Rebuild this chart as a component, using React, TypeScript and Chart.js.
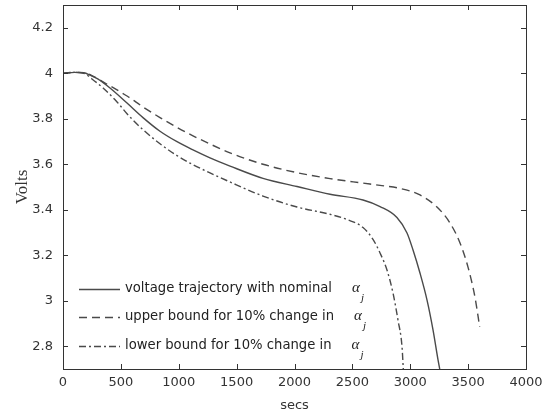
import React, { useEffect, useRef } from 'react';
import { Chart, registerables } from 'chart.js';

Chart.register(...registerables);

// Nominal voltage trajectory (secs, volts)
const nominalX = [0, 100, 180, 233, 300, 406, 553, 691, 838, 985, 1123, 1270, 1443, 1728, 2022, 2307, 2592, 2739, 2885, 2972, 3024, 3084, 3145, 3197, 3240, 3255];
const nominalY = [4.0, 4.004, 4.002, 3.992, 3.975, 3.935, 3.869, 3.805, 3.745, 3.699, 3.663, 3.628, 3.592, 3.538, 3.502, 3.468, 3.443, 3.414, 3.366, 3.298, 3.223, 3.122, 3.003, 2.871, 2.74, 2.7];

// Upper bound for 10% change
const upperX = [0, 100, 180, 250, 346, 553, 691, 838, 985, 1123, 1270, 1443, 1728, 2022, 2307, 2592, 2739, 2911, 3084, 3231, 3343, 3430, 3499, 3559, 3600];
const upperY = [4.0, 4.004, 4.002, 3.99, 3.962, 3.9, 3.852, 3.805, 3.762, 3.725, 3.689, 3.65, 3.6, 3.563, 3.537, 3.517, 3.507, 3.494, 3.465, 3.412, 3.342, 3.254, 3.148, 3.016, 2.885];

// Lower bound for 10% change
const lowerX = [0, 100, 180, 250, 346, 467, 553, 691, 838, 985, 1123, 1270, 1430, 1728, 2022, 2307, 2454, 2592, 2678, 2739, 2799, 2851, 2894, 2929, 2940];
const lowerY = [4.0, 4.004, 4.0, 3.975, 3.935, 3.874, 3.822, 3.752, 3.69, 3.638, 3.598, 3.562, 3.525, 3.46, 3.412, 3.38, 3.357, 3.322, 3.27, 3.21, 3.135, 3.034, 2.915, 2.797, 2.7];

const xTicks = [0, 500, 1000, 1500, 2000, 2500, 3000, 3500, 4000];
const yTicks = [2.8, 3.0, 3.2, 3.4, 3.6, 3.8, 4.0, 4.2];
const yTickLabels = ['2.8', '3', '3.2', '3.4', '3.6', '3.8', '4', '4.2'];

const legendLabels = [
  'voltage trajectory with nominal',
  'upper bound for 10% change in',
  'lower bound for 10% change in',
];
const legendSymbol = 'α';
const legendSub = 'j';

const LINE_COLOR = '#4a4a4a';
const dashes: number[][] = [[], [8, 5], [7, 3, 2, 3]];

const zip = (xs: number[], ys: number[]) => xs.map((x, i) => ({ x, y: ys[i] }));

const framePlugin = {
  id: 'frame',
  afterDatasetsDraw(chart: any) {
    const { ctx, chartArea: a, scales } = chart;
    const x = scales.x;
    const y = scales.y;
    ctx.save();
    ctx.strokeStyle = '#333';
    ctx.lineWidth = 1;
    ctx.setLineDash([]);
    ctx.strokeRect(Math.round(a.left) + 0.5, Math.round(a.top) + 0.5, Math.round(a.right - a.left), Math.round(a.bottom - a.top));
    const L = 5;
    ctx.beginPath();
    xTicks.forEach((v) => {
      const px = Math.round(x.getPixelForValue(v)) + 0.5;
      ctx.moveTo(px, a.bottom);
      ctx.lineTo(px, a.bottom - L);
      ctx.moveTo(px, a.top);
      ctx.lineTo(px, a.top + L);
    });
    yTicks.forEach((v) => {
      const py = Math.round(y.getPixelForValue(v)) + 0.5;
      ctx.moveTo(a.left, py);
      ctx.lineTo(a.left + L, py);
      ctx.moveTo(a.right, py);
      ctx.lineTo(a.right - L, py);
    });
    ctx.stroke();

    // legend inside plot, bottom-left
    const rowY = [289, 317, 346];
    const lineX0 = 79;
    const lineX1 = 120;
    const textX = 125;
    legendLabels.forEach((label, i) => {
      const ry = rowY[i];
      ctx.beginPath();
      ctx.strokeStyle = LINE_COLOR;
      ctx.lineWidth = 1.3;
      ctx.setLineDash(dashes[i]);
      ctx.moveTo(lineX0, ry + 0.5);
      ctx.lineTo(lineX1, ry + 0.5);
      ctx.stroke();
      ctx.setLineDash([]);
      ctx.fillStyle = '#222';
      ctx.font = '13.2px "DejaVu Sans"';
      ctx.textBaseline = 'middle';
      ctx.textAlign = 'left';
      ctx.fillText(label, textX, ry);
      const w = ctx.measureText(label).width;
      const ax = textX + w + 20;
      ctx.font = 'italic 15px "Liberation Serif"';
      ctx.fillText(legendSymbol, ax, ry - 1);
      const aw = ctx.measureText(legendSymbol).width;
      ctx.font = 'italic 11px "Liberation Serif"';
      ctx.fillText(legendSub, ax + aw + 1, ry + 9);
    });
    ctx.restore();
  },
};

export default function App() {
  const ref = useRef<HTMLCanvasElement>(null);
  useEffect(() => {
    document.body.style.margin = '0';
    const canvas = ref.current!;
    const chart = new Chart(canvas, {
      type: 'line',
      data: {
        datasets: [
          { label: legendLabels[0], data: zip(nominalX, nominalY), borderDash: dashes[0] },
          { label: legendLabels[1], data: zip(upperX, upperY), borderDash: dashes[1] },
          { label: legendLabels[2], data: zip(lowerX, lowerY), borderDash: dashes[2] },
        ].map((d) => ({
          ...d,
          borderColor: LINE_COLOR,
          borderWidth: 1.4,
          pointRadius: 0,
          fill: false,
          cubicInterpolationMode: 'monotone' as const,
        })),
      },
      options: {
        responsive: false,
        animation: false,
        layout: { padding: { left: 0, right: 21, top: 5, bottom: 0 } },
        plugins: { legend: { display: false }, tooltip: { enabled: false } },
        scales: {
          x: {
            type: 'linear',
            min: 0,
            max: 4000,
            grid: { display: false, drawTicks: false },
            border: { display: false },
            afterBuildTicks: (s: any) => { s.ticks = xTicks.map((v) => ({ value: v })); },
            afterFit: (s: any) => { s.height = 46; s.paddingLeft = 0; s.paddingRight = 0; },
            ticks: {
              color: '#333',
              font: { family: '"DejaVu Sans"', size: 13 },
              padding: 6,
              maxRotation: 0,
              autoSkip: false,
              callback: (v: any) => String(v),
            },
            title: {
              display: true,
              text: 'secs',
              color: '#333',
              font: { family: '"DejaVu Sans"', size: 13 },
              padding: { top: 0, bottom: 2 },
            },
          },
          y: {
            type: 'linear',
            min: 2.7,
            max: 4.3,
            grid: { display: false, drawTicks: false },
            border: { display: false },
            afterBuildTicks: (s: any) => { s.ticks = yTicks.map((v) => ({ value: v })); },
            afterFit: (s: any) => { s.width = 63; s.paddingTop = 0; s.paddingBottom = 0; },
            ticks: {
              color: '#333',
              font: { family: '"DejaVu Sans"', size: 13 },
              padding: 10,
              autoSkip: false,
              callback: (v: any) => {
                const i = yTicks.findIndex((t) => Math.abs(t - v) < 1e-6);
                return i >= 0 ? yTickLabels[i] : '';
              },
            },
            title: {
              display: true,
              text: 'Volts',
              color: '#333',
              font: { family: '"Liberation Serif"', size: 17 },
              padding: { top: 12, bottom: 0 },
            },
          },
        },
      },
      plugins: [framePlugin],
    });
    return () => chart.destroy();
  }, []);
  return (
    <div style={{ width: 547, height: 415, background: '#fff' }}>
      <canvas ref={ref} width={547} height={415} style={{ display: 'block' }} />
    </div>
  );
}
